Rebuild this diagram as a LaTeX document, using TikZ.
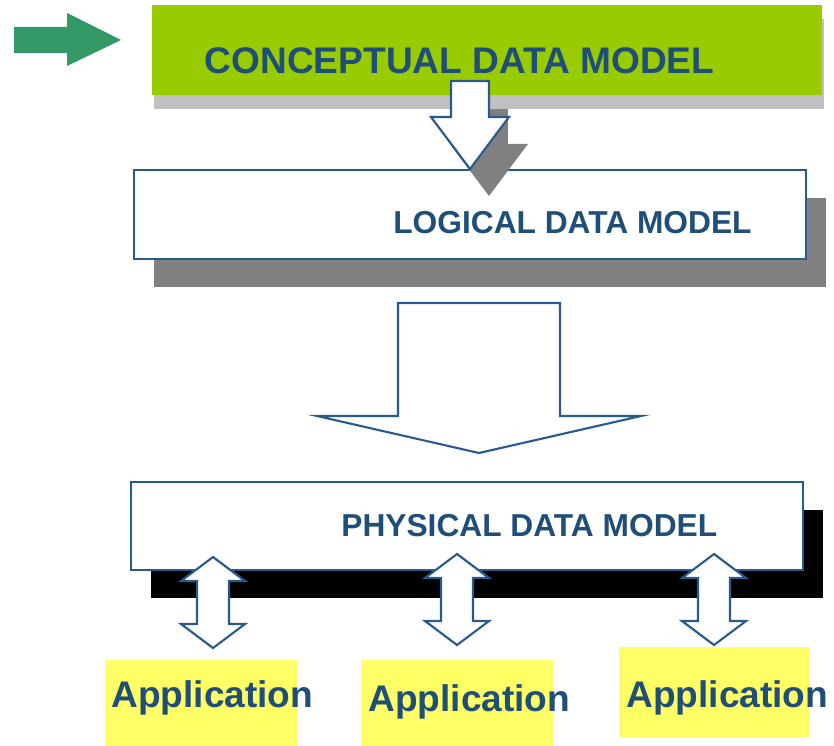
\documentclass[tikz,border=0pt]{standalone}
\usepackage{fontspec}
\setmainfont{Liberation Sans}
\usepackage{xcolor}
\usepackage{tikz}
\usetikzlibrary{
  positioning,
  shadows}

\definecolor{modelblue}{RGB}{31,78,121}
\definecolor{lineblue}{RGB}{40,90,140}
\definecolor{conceptgreen}{RGB}{153,204,0}
\definecolor{pointergreen}{RGB}{51,153,102}
\definecolor{appyellow}{RGB}{255,255,102}
\definecolor{lightshade}{RGB}{192,192,192}
\definecolor{darkshade}{RGB}{128,128,128}

\tikzset{modelbox/.style={draw=lineblue, line width=1.2pt, fill=white, anchor=north west, inner sep=0},
         conceptbox/.style={fill=conceptgreen, anchor=north west, inner sep=0},
         appbox/.style={fill=appyellow, anchor=north west, inner sep=0},
         lightdrop/.style={drop shadow={shadow xshift=0.04cm, shadow yshift=-0.28cm, fill=lightshade, opacity=1}},
         greydrop/.style={drop shadow={shadow xshift=0.4cm, shadow yshift=-0.56cm, fill=darkshade, opacity=1}},
         blackdrop/.style={drop shadow={shadow xshift=0.4cm, shadow yshift=-0.56cm, fill=black, opacity=1}},
         blockarrow/.style={draw=lineblue, line width=1.2pt, fill=white, line join=miter},
         modeltext/.style={text=modelblue, anchor=base west, inner sep=0, font=\bfseries\fontsize{18.05}{20}\selectfont},
         apptext/.style={text=modelblue, anchor=base west, inner sep=0, font=\bfseries\fontsize{21.1}{24}\selectfont}
        }

\begin{document}
\begin{tikzpicture}[x=0.02cm, y=-0.02cm]
\useasboundingbox (0,0) rectangle (834,746);

% green pointer
\fill[pointergreen] (14,27) -- (67,27) -- (67,13) -- (121,40) -- (67,66) -- (67,53) -- (14,53) -- cycle;

% logical level
\node[modelbox, greydrop, minimum width=13.44cm, minimum height=1.78cm] (logical) at (133,169) {};
\node[modeltext] (logical_text) at (393,234) {LOGICAL DATA MODEL};

% shadow of the small arrow
\fill[darkshade] ([shift={(19,27)}]logical.north) -- ++(-39,-52) -- ++(20,0) -- ++(0,-36) -- ++(38,0) -- ++(0,36) -- ++(20,0) -- cycle;

% conceptual level
\node[conceptbox, lightdrop, minimum width=13.4cm, minimum height=1.8cm] (concept) at (152,5) {};
\node[modeltext, font=\bfseries\fontsize{21.1}{24}\selectfont] (concept_text) at (204.5,74) {CONCEPTUAL DATA MODEL};

\draw[blockarrow] (logical.north) -- ++(-39,-52) -- ++(20,0) -- ++(0,-36) -- ++(38,0) -- ++(0,36) -- ++(20,0) -- cycle;

% physical level
\node[modelbox, blackdrop, minimum width=13.44cm, minimum height=1.76cm] (physical) at (130,481) {};
\node[modeltext] (physical_text) at (341,536) {PHYSICAL DATA MODEL};

\coordinate (drop_tip) at (479,453);
\draw[blockarrow] (drop_tip) -- ++(-162,-37) -- ++(81,0) -- ++(0,-113) -- ++(162,0) -- ++(0,113) -- ++(81,0) -- cycle;

% applications
\node[appbox, minimum width=3.84cm, minimum height=1.72cm] (app1_box) at (105,660) {};
\node[appbox, minimum width=3.84cm, minimum height=1.72cm] (app2_box) at (361,660) {};
\node[appbox, minimum width=3.82cm, minimum height=1.8cm] (app3_box) at (619,647) {};

\node[apptext] (app1) at (111,707) {Application};
\node[apptext] (app2) at (368,711) {Application};
\node[apptext] (app3) at (626,707) {Application};

% links physical <-> applications
\coordinate (link1) at (213,557);
\coordinate (link2) at (457,554);
\coordinate (link3) at (714,554);

\draw[blockarrow] (link1) -- ++(32,24) -- ++(-16,0) -- ++(0,43) -- ++(16,0) -- ++(-32,24) -- ++(-32,-24) -- ++(16,0) -- ++(0,-43) -- ++(-16,0) -- cycle;
\draw[blockarrow] (link2) -- ++(32,24) -- ++(-16,0) -- ++(0,43) -- ++(16,0) -- ++(-32,24) -- ++(-32,-24) -- ++(16,0) -- ++(0,-43) -- ++(-16,0) -- cycle;
\draw[blockarrow] (link3) -- ++(32,24) -- ++(-16,0) -- ++(0,43) -- ++(16,0) -- ++(-32,24) -- ++(-32,-24) -- ++(16,0) -- ++(0,-43) -- ++(-16,0) -- cycle;

\end{tikzpicture}
\end{document}
